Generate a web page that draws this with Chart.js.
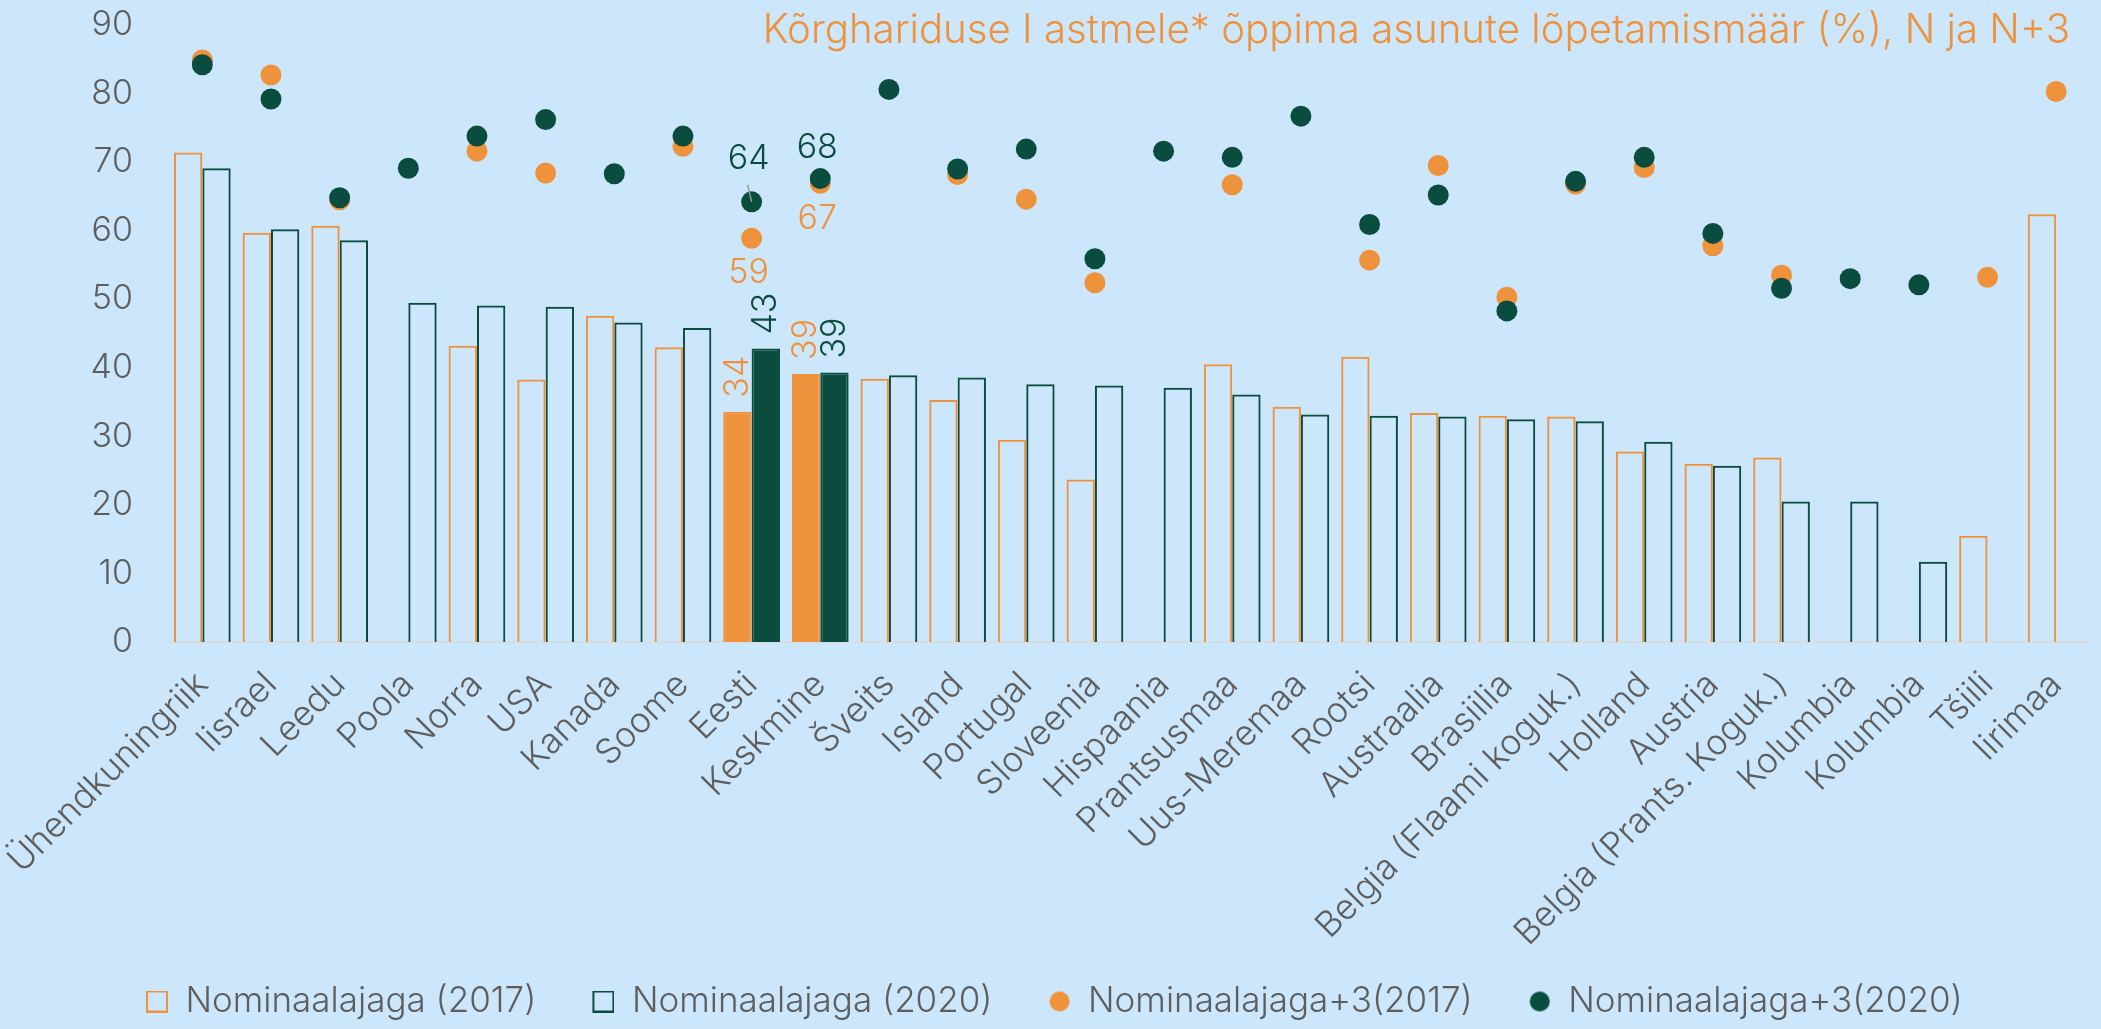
<!DOCTYPE html>
<html lang="et">
<head>
  <meta charset="UTF-8">
  <title>Kõrghariduse lõpetamismäär</title>
  <style>
    html, body {
      margin: 0;
      padding: 0;
      background: #cce7fc;
      overflow: hidden;
    }
    .wrap {
      width: 2101px;
      height: 1029px;
      position: relative;
    }
  </style>
  <script src="https://cdn.jsdelivr.net/npm/chart.js"></script>
</head>
<body>
  <div class="wrap">
    <canvas id="chart"></canvas>
  </div>

  <script>
    const categories = [
      "Ühendkuningriik", "Iisrael", "Leedu", "Poola", "Norra", "USA", "Kanada", "Soome",
      "Eesti", "Keskmine", "Šveits", "Island", "Portugal", "Sloveenia", "Hispaania",
      "Prantsusmaa", "Uus-Meremaa", "Rootsi", "Austraalia", "Brasiilia",
      "Belgia (Flaami koguk.)", "Holland", "Austria", "Belgia (Prants. Koguk.)",
      "Kolumbia", "Kolumbia", "Tšiili", "Iirimaa"
    ];

    const nominal2017 = [71.4, 59.7, 60.7, null, 43.2, 38.3, 47.6, 43.0, 33.6, 39.1, 38.4, 35.3, 29.5, 23.7,
      null, 40.5, 34.3, 41.6, 33.4, 33.0, 32.9, 27.8, 26.0, 26.9, null, null, 15.5, 62.4];
    const nominal2020 = [69.1, 60.2, 58.6, 49.5, 49.1, 48.9, 46.6, 45.8, 42.8, 39.3, 38.9, 38.6, 37.6, 37.4,
      37.1, 36.1, 33.2, 33.0, 32.9, 32.5, 32.2, 29.2, 25.7, 20.5, 20.5, 11.7, null, null];
    const plus3_2017 = [84.9, 82.7, 64.5, null, 71.6, 68.4, null, 72.3, 58.9, 66.9, null, 68.2, 64.6, 52.4,
      null, 66.7, null, 55.7, 69.5, 50.3, 66.8, 69.2, 57.8, 53.5, null, null, 53.2, 80.3];
    const plus3_2020 = [84.2, 79.2, 64.8, 69.1, 73.8, 76.2, 68.3, 73.8, 64.2, 67.6, 80.6, 69.0, 71.9, 55.9,
      71.6, 70.7, 76.7, 60.9, 65.2, 48.3, 67.2, 70.7, 59.6, 51.6, 53.0, 52.1, null, null];

    const yTicks = [0, 10, 20, 30, 40, 50, 60, 70, 80, 90];
    const seriesNames = ["Nominaalajaga (2017)", "Nominaalajaga (2020)", "Nominaalajaga+3(2017)", "Nominaalajaga+3(2020)"];
    const highlighted = ["Eesti", "Keskmine"];
    const titleText = "Kõrghariduse I astmele* õppima asunute lõpetamismäär (%), N ja N+3";

    const ORANGE = "#ef923c";
    const GREEN = "#0a4d3e";
    const GREY = "#5e5e5e";
    const FONT = "Inter";

    const isHighlighted = (i) => highlighted.includes(categories[i]);

    // legend icons: empty space on the left gives the gap between legend items
    function legendIcon(kind, color) {
      const c = document.createElement("canvas");
      c.width = 64;
      c.height = 22;
      const g = c.getContext("2d");
      if (kind === "rect") {
        g.strokeStyle = color;
        g.lineWidth = 2;
        g.strokeRect(43, 1, 20, 20);
      } else {
        g.fillStyle = color;
        g.beginPath();
        g.arc(53, 11, 10, 0, Math.PI * 2);
        g.fill();
      }
      return c;
    }
    const legendIcons = [
      legendIcon("rect", ORANGE), legendIcon("rect", GREEN),
      legendIcon("circle", ORANGE), legendIcon("circle", GREEN)
    ];

    // title in the upper right corner + labels for Eesti / Keskmine
    const annotations = {
      id: "annotations",
      afterDatasetsDraw(chart) {
        const ctx = chart.ctx;
        ctx.save();
        ctx.font = `300 40.2px ${FONT}`;
        ctx.fillStyle = ORANGE;
        ctx.textAlign = "right";
        ctx.textBaseline = "alphabetic";
        ctx.fillText(titleText, 2070, 43);

        ctx.font = `300 34px ${FONT}`;
        categories.forEach((cat, i) => {
          if (!isHighlighted(i)) return;
          // bar values, rotated
          [[0, ORANGE], [1, GREEN]].forEach(([ds, color]) => {
            const el = chart.getDatasetMeta(ds).data[i];
            const v = chart.data.datasets[ds].data[i];
            ctx.save();
            ctx.translate(el.x, el.y - 14);
            ctx.rotate(-Math.PI / 2);
            ctx.fillStyle = color;
            ctx.textAlign = "left";
            ctx.textBaseline = "middle";
            ctx.fillText(Math.round(v), 0, 0);
            ctx.restore();
          });
          // dot values
          const g = chart.getDatasetMeta(3).data[i];
          const o = chart.getDatasetMeta(2).data[i];
          const gv = Math.round(chart.data.datasets[3].data[i]);
          const ov = Math.round(chart.data.datasets[2].data[i]);
          ctx.textAlign = "center";
          ctx.textBaseline = "middle";
          const up = i === 8 ? 43 : 31;
          ctx.fillStyle = GREEN;
          ctx.fillText(gv, g.x - 3, g.y - up);
          ctx.fillStyle = ORANGE;
          ctx.fillText(ov, o.x - 3, o.y + 35);
          if (i === 8) {
            ctx.strokeStyle = "#9a9a9a";
            ctx.lineWidth = 1.5;
            ctx.beginPath();
            ctx.moveTo(g.x - 4, g.y - 17);
            ctx.lineTo(g.x, g.y);
            ctx.stroke();
          }
        });
        ctx.restore();
      }
    };

    new Chart(document.getElementById("chart"), {
      type: "bar",
      data: {
        labels: categories,
        datasets: [
          {
            label: seriesNames[0],
            data: nominal2017,
            borderColor: ORANGE,
            borderWidth: 2,
            backgroundColor: (c) => (c.type === "data" && isHighlighted(c.dataIndex)) ? ORANGE : "rgba(0,0,0,0)",
            categoryPercentage: 0.826,
            barPercentage: 1.0,
            order: 2
          },
          {
            label: seriesNames[1],
            data: nominal2020,
            borderColor: GREEN,
            borderWidth: 2,
            backgroundColor: (c) => (c.type === "data" && isHighlighted(c.dataIndex)) ? GREEN : "rgba(0,0,0,0)",
            categoryPercentage: 0.826,
            barPercentage: 1.0,
            order: 3
          },
          {
            type: "line",
            label: seriesNames[2],
            data: plus3_2017,
            showLine: false,
            pointRadius: 10.5,
            pointHoverRadius: 10.5,
            pointBorderWidth: 0,
            backgroundColor: ORANGE,
            borderColor: ORANGE,
            order: 1
          },
          {
            type: "line",
            label: seriesNames[3],
            data: plus3_2020,
            showLine: false,
            pointRadius: 10.5,
            pointHoverRadius: 10.5,
            pointBorderWidth: 0,
            backgroundColor: GREEN,
            borderColor: GREEN,
            order: 0
          }
        ]
      },
      options: {
        responsive: true,
        maintainAspectRatio: false,
        animation: false,
        layout: {
          padding: { left: 90, top: 25, right: -30, bottom: 0 }
        },
        scales: {
          x: {
            grid: { display: false, drawTicks: false },
            border: { display: true, color: "#d6dde2", width: 2 },
            ticks: {
              autoSkip: false,
              minRotation: 45,
              maxRotation: 45,
              padding: 22,
              color: GREY,
              font: { family: FONT, size: 35, weight: 300 }
            },
            afterFit(scale) {
              scale.height = 328;
              scale.paddingLeft = 0;
              scale.paddingRight = 0;
            }
          },
          y: {
            min: 0,
            max: 90,
            afterBuildTicks(scale) {
              scale.ticks = yTicks.map((v) => ({ value: v }));
            },
            grid: { display: false, drawTicks: false },
            border: { display: false },
            ticks: {
              padding: 35,
              color: GREY,
              font: { family: FONT, size: 34, weight: 300 }
            },
            afterFit(scale) {
              scale.width = 78;
              scale.paddingTop = 0;
              scale.paddingBottom = 0;
            }
          }
        },
        plugins: {
          legend: {
            position: "bottom",
            align: "start",
            labels: {
              usePointStyle: true,
              pointStyleWidth: 64,
              boxHeight: 22,
              padding: 14,
              color: GREY,
              font: { family: FONT, size: 35, weight: 300 },
              generateLabels(chart) {
                const items = Chart.defaults.plugins.legend.labels.generateLabels(chart);
                items.forEach((it) => { it.pointStyle = legendIcons[it.datasetIndex]; });
                return items;
              },
              sort: (a, b) => a.datasetIndex - b.datasetIndex
            }
          },
          tooltip: { enabled: false }
        }
      },
      plugins: [annotations]
    });
  </script>
</body>
</html>
